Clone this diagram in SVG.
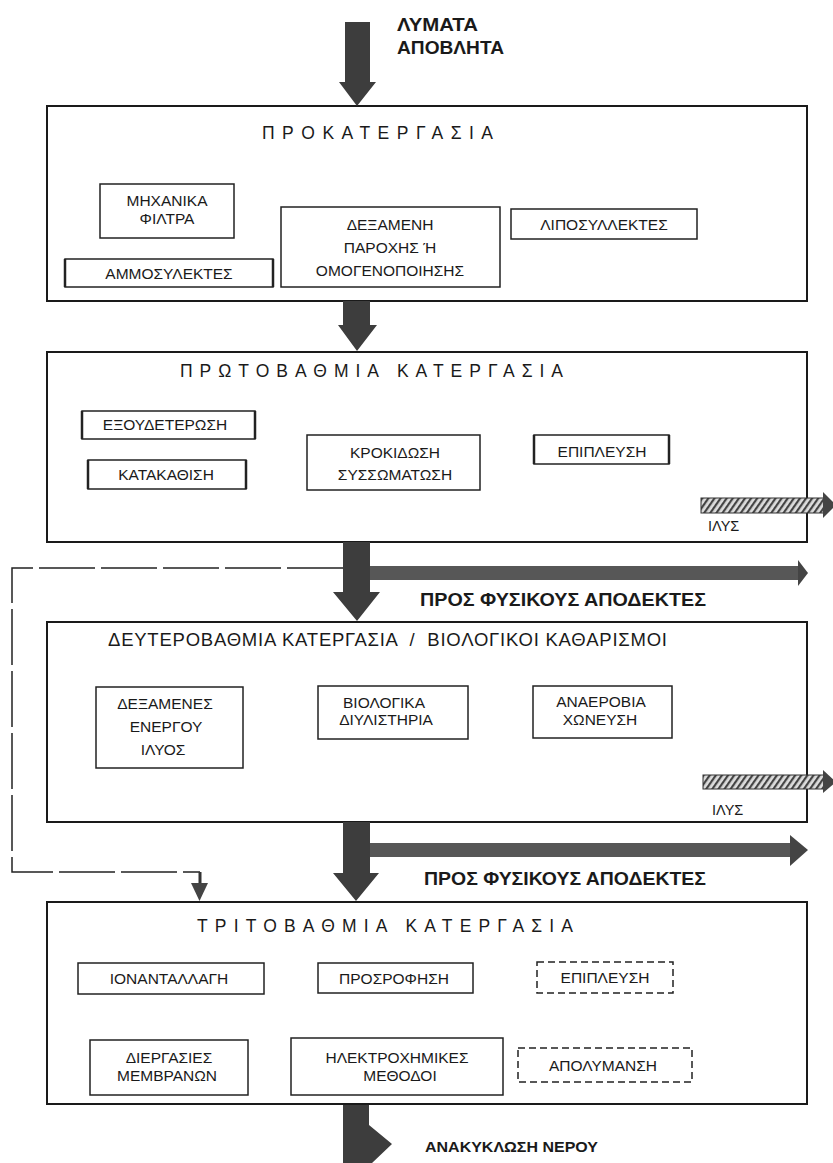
<svg xmlns="http://www.w3.org/2000/svg" width="833" height="1163" viewBox="0 0 833 1163">
<defs>
<style>
.stage{fill:#fff;stroke:#1a1a1a;stroke-width:2}
.box{fill:#fff;stroke:#222;stroke-width:1.5}
.dbox{fill:#fff;stroke:#222;stroke-width:1.5;stroke-dasharray:7 4}
.side{stroke:#222;stroke-width:2.5}
text{font-family:"Liberation Sans",Arial,sans-serif;fill:#1a1a1a}
.t{font-size:15.5px;text-anchor:middle}
.title{font-size:17.5px}
.title2{font-size:18.5px}
.lbl{font-size:18px;font-weight:bold}
.small{font-size:15px;font-weight:bold}
.ilys{font-size:14.5px}
.arrow{fill:#3d3d3d}
.bar{fill:#575757}
.hatch{fill:url(#hatch);stroke:#333;stroke-width:1}
.head{fill:#444}
.fb{fill:none;stroke:#222;stroke-width:1.5;stroke-dasharray:56 6}
</style>
<pattern id="hatch" width="5" height="5" patternUnits="userSpaceOnUse" patternTransform="rotate(35)">
<rect width="5" height="5" fill="#ddd"/>
<rect width="2.2" height="5" fill="#444"/>
</pattern>
</defs>
<rect width="833" height="1163" fill="#fff"/>

<g id="input-label">
<text class="lbl" x="397" y="31" textLength="81" lengthAdjust="spacingAndGlyphs">ΛΥΜΑΤΑ</text>
<text class="lbl" x="397" y="54" textLength="107" lengthAdjust="spacingAndGlyphs">ΑΠΟΒΛΗΤΑ</text>
</g>

<g id="pretreatment">
<rect class="stage" x="47" y="106" width="760" height="195"/>
<text class="title" x="262" y="139" textLength="231" lengthAdjust="spacing">ΠΡΟΚΑΤΕΡΓΑΣΙΑ</text>
<g id="mech-filters"><rect class="box" x="100" y="184" width="134" height="54"/>
<text class="t" x="167" y="206">ΜΗΧΑΝΙΚΑ</text><text class="t" x="167" y="224">ΦΙΛΤΡΑ</text></g>
<g id="sand-traps"><rect class="box" x="65" y="259" width="208" height="28"/>
<line class="side" x1="65" y1="259" x2="65" y2="287"/><line class="side" x1="273" y1="259" x2="273" y2="287"/>
<text class="t" x="169" y="279">ΑΜΜΟΣΥΛΕΚΤΕΣ</text></g>
<g id="equalization-tank"><rect class="box" x="281" y="207" width="219" height="80"/>
<text class="t" x="390" y="230">ΔΕΞΑΜΕΝΗ</text><text class="t" x="390" y="253">ΠΑΡΟΧΗΣ Ή</text><text class="t" x="390" y="276">ΟΜΟΓΕΝΟΠΟΙΗΣΗΣ</text></g>
<g id="grease-traps"><rect class="box" x="511" y="209" width="186" height="30"/>
<text class="t" x="604" y="230">ΛΙΠΟΣΥΛΛΕΚΤΕΣ</text></g>
</g>

<g id="primary">
<rect class="stage" x="47" y="352" width="760" height="190"/>
<text class="title" x="180" y="377" textLength="383" lengthAdjust="spacing">ΠΡΩΤΟΒΑΘΜΙΑ ΚΑΤΕΡΓΑΣΙΑ</text>
<g id="neutralization"><rect class="box" x="82" y="411" width="173" height="28"/>
<line class="side" x1="82" y1="411" x2="82" y2="439"/><line class="side" x1="255" y1="411" x2="255" y2="439"/>
<text class="t" x="165" y="430">ΕΞΟΥΔΕΤΕΡΩΣΗ</text></g>
<g id="sedimentation"><rect class="box" x="88" y="460" width="158" height="29"/>
<line class="side" x1="88" y1="460" x2="88" y2="489"/><line class="side" x1="246" y1="460" x2="246" y2="489"/>
<text class="t" x="166" y="480">ΚΑΤΑΚΑΘΙΣΗ</text></g>
<g id="flocculation"><rect class="box" x="307" y="435" width="173" height="55"/>
<text class="t" x="395" y="458">ΚΡΟΚΙΔΩΣΗ</text><text class="t" x="395" y="480">ΣΥΣΣΩΜΑΤΩΣΗ</text></g>
<g id="flotation1"><rect class="box" x="534" y="435" width="135" height="29"/>
<line class="side" x1="534" y1="435" x2="534" y2="464"/><line class="side" x1="669" y1="435" x2="669" y2="464"/>
<text class="t" x="602" y="457">ΕΠΙΠΛΕΥΣΗ</text></g>
</g>

<g id="secondary">
<rect class="stage" x="47" y="622" width="760" height="200"/>
<text class="title2" x="108" y="646" textLength="559" lengthAdjust="spacing" xml:space="preserve">ΔΕΥΤΕΡΟΒΑΘΜΙΑ ΚΑΤΕΡΓΑΣΙΑ  /  ΒΙΟΛΟΓΙΚΟΙ ΚΑΘΑΡΙΣΜΟΙ</text>
<g id="activated-sludge"><rect class="box" x="96" y="687" width="147" height="81"/>
<text class="t" x="165" y="709">ΔΕΞΑΜΕΝΕΣ</text><text class="t" x="166" y="732">ΕΝΕΡΓΟΥ</text><text class="t" x="163" y="755">ΙΛΥΟΣ</text></g>
<g id="biofilters"><rect class="box" x="318" y="686" width="150" height="53"/>
<text class="t" x="384" y="708">ΒΙΟΛΟΓΙΚΑ</text><text class="t" x="386" y="725">ΔΙΥΛΙΣΤΗΡΙΑ</text></g>
<g id="anaerobic"><rect class="box" x="533" y="686" width="139" height="52"/>
<text class="t" x="601" y="707">ΑΝΑΕΡΟΒΙΑ</text><text class="t" x="600" y="725">ΧΩΝΕΥΣΗ</text></g>
</g>

<g id="tertiary">
<rect class="stage" x="47" y="902" width="760" height="202"/>
<text class="title" x="197" y="932" textLength="376" lengthAdjust="spacing">ΤΡΙΤΟΒΑΘΜΙΑ ΚΑΤΕΡΓΑΣΙΑ</text>
<g id="ion-exchange"><rect class="box" x="78" y="963" width="186" height="31"/>
<text class="t" x="169" y="984">ΙΟΝΑΝΤΑΛΛΑΓΗ</text></g>
<g id="adsorption"><rect class="box" x="318" y="963" width="155" height="30"/>
<text class="t" x="394" y="984">ΠΡΟΣΡΟΦΗΣΗ</text></g>
<g id="flotation2"><rect class="dbox" x="537" y="962" width="136" height="31"/>
<text class="t" x="605" y="983">ΕΠΙΠΛΕΥΣΗ</text></g>
<g id="membranes"><rect class="box" x="90" y="1040" width="158" height="55"/>
<text class="t" x="169" y="1063">ΔΙΕΡΓΑΣΙΕΣ</text><text class="t" x="167" y="1081">ΜΕΜΒΡΑΝΩΝ</text></g>
<g id="electrochemical"><rect class="box" x="291" y="1038" width="212" height="57"/>
<text class="t" x="397" y="1063">ΗΛΕΚΤΡΟΧΗΜΙΚΕΣ</text><text class="t" x="400" y="1081">ΜΕΘΟΔΟΙ</text></g>
<g id="disinfection"><rect class="dbox" x="518" y="1048" width="174" height="34"/>
<text class="t" x="603" y="1071">ΑΠΟΛΥΜΑΝΣΗ</text></g>
</g>

<g id="connectors">
<polygon class="arrow" points="345,22 370,22 370,82 376,82 357,106 339,82 345,82"/>
<polygon class="arrow" points="343,301 370,301 370,325 377,325 357,351 338,325 343,325"/>
<polygon class="arrow" points="343,542 370,542 370,592 380,592 357,621 333,592 343,592"/>
<polygon class="arrow" points="343,822 370,822 370,873 379,873 356,901 333,873 343,873"/>
<polygon class="arrow" points="343,1105 369,1105 369,1125 392,1144 372,1163 343,1163"/>

<rect class="bar" x="370" y="566" width="430" height="14"/>
<polygon class="head" points="798,560 808,573 798,586"/>
<rect class="bar" x="370" y="843" width="422" height="14"/>
<polygon class="head" points="790,835 808,850 790,866"/>

<rect class="hatch" x="701" y="498" width="125" height="15"/>
<polygon class="head" points="823,492 836,505 823,518"/>
<rect class="hatch" x="703" y="775" width="123" height="14"/>
<polygon class="head" points="823,770 836,782 823,793"/>

<path class="fb" d="M343,568 H12 V872 H200"/>
<line x1="200" y1="872" x2="200" y2="884" stroke="#333" stroke-width="3"/>
<polygon class="head" points="191,883 208,883 199.5,901"/>

<text class="lbl" x="420" y="606" textLength="286" lengthAdjust="spacingAndGlyphs">ΠΡΟΣ ΦΥΣΙΚΟΥΣ ΑΠΟΔΕΚΤΕΣ</text>
<text class="lbl" x="424" y="885" textLength="282" lengthAdjust="spacingAndGlyphs">ΠΡΟΣ ΦΥΣΙΚΟΥΣ ΑΠΟΔΕΚΤΕΣ</text>
<text class="ilys" x="708" y="531">ΙΛΥΣ</text>
<text class="ilys" x="712" y="815">ΙΛΥΣ</text>
<text class="small" x="425" y="1152" textLength="173" lengthAdjust="spacingAndGlyphs">ΑΝΑΚΥΚΛΩΣΗ ΝΕΡΟΥ</text>
</g>
</svg>
